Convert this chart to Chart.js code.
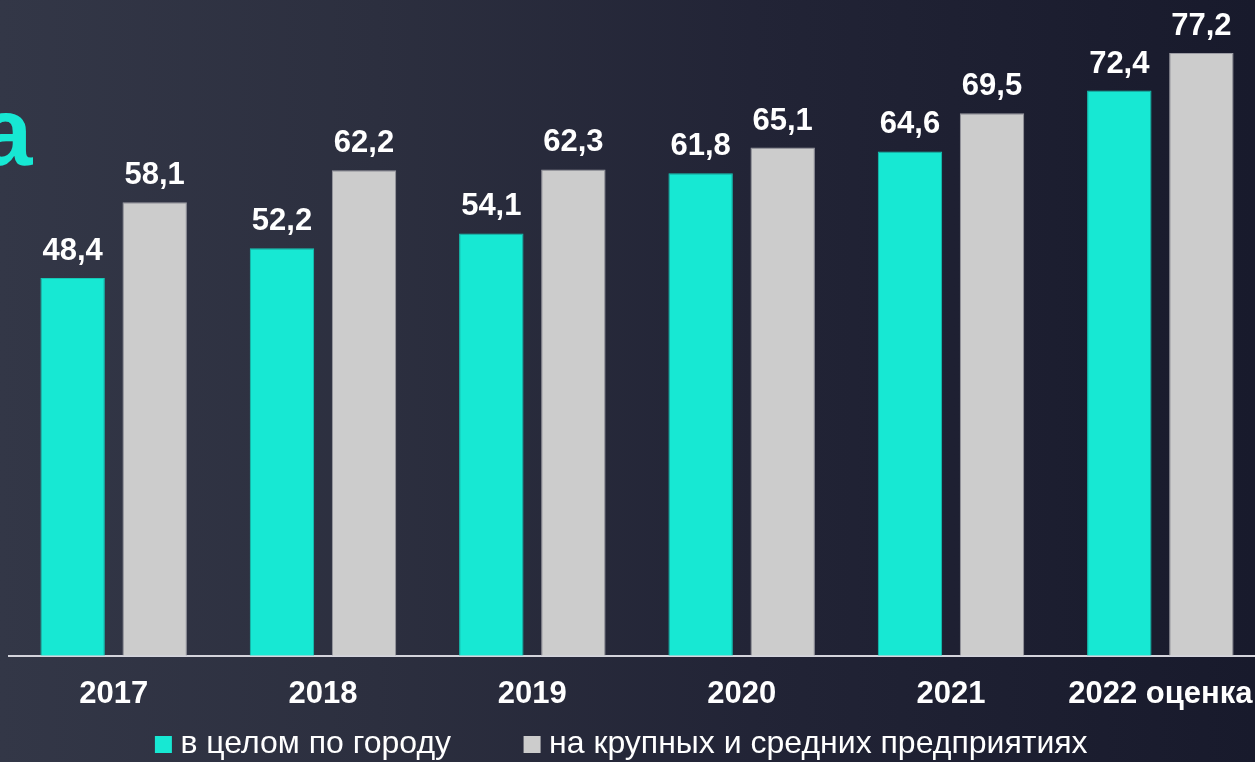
<!DOCTYPE html>
<html><head><meta charset="utf-8">
<script src="https://cdn.jsdelivr.net/npm/chart.js@4"></script>
<style>
html,body{margin:0;padding:0;width:1255px;height:762px;overflow:hidden;
background:linear-gradient(90deg,#333747 0%,#2c2f3f 30%,#222436 60%,#181a2c 100%);}
#wrap{position:absolute;left:-15px;top:0;width:1280px;height:775px;}
#title{position:absolute;left:-21px;top:84px;font-family:Arial,"Liberation Sans",Helvetica,sans-serif;font-weight:bold;font-size:96px;color:#17e8d3;line-height:1;white-space:nowrap;}
</style></head><body>
<div id="title">а</div>
<div id="wrap"><canvas id="c" width="1280" height="775"></canvas></div>
<script>
const categories = ['2017', '2018', '2019', '2020', '2021', '2022 оценка'];
const cityValues = [48.4, 52.2, 54.1, 61.8, 64.6, 72.4];
const largeValues = [58.1, 62.2, 62.3, 65.1, 69.5, 77.2];
const seriesNames = ['в целом по городу', 'на крупных и средних предприятиях'];

const FONT = 'Arial, "Liberation Sans", sans-serif';

const valueLabels = {
  id: 'valueLabels',
  afterDatasetsDraw(chart) {
    const ctx = chart.ctx;
    ctx.save();
    ctx.font = 'bold 31px ' + FONT;
    ctx.fillStyle = '#ffffff';
    ctx.textAlign = 'center';
    ctx.textBaseline = 'alphabetic';
    chart.data.datasets.forEach((ds, di) => {
      chart.getDatasetMeta(di).data.forEach((bar, i) => {
        const t = ds.data[i].toFixed(1).replace('.', ',');
        ctx.fillText(t, bar.x, bar.y - 18);
      });
    });
    ctx.restore();
  }
};

const legendNudge = {
  id: 'legendNudge',
  afterLayout(chart) {
    if (chart.legend) { chart.legend.top -= 4.5; chart.legend.bottom -= 4.5; }
  }
};

new Chart(document.getElementById('c'), {
  type: 'bar',
  data: {
    labels: categories,
    datasets: [
      { label: seriesNames[0], data: cityValues, backgroundColor: '#17e8d3', borderColor: '#14c8b6', borderWidth: 1 },
      { label: seriesNames[1], data: largeValues, backgroundColor: '#cccccc', borderColor: '#9c9ca4', borderWidth: 1 }
    ]
  },
  options: {
    responsive: false,
    animation: false,
    layout: { padding: 0, autoPadding: false },
    datasets: { bar: { categoryPercentage: 0.784, barPercentage: 0.785 } },
    scales: {
      x: {
        grid: { display: false, drawTicks: false },
        border: { display: true, color: '#d4d4dc', width: 2 },
        ticks: { color: '#ffffff', padding: 20, font: { family: FONT, size: 31, weight: 'bold' }, maxRotation: 0, autoSkip: false },
        afterFit(s) { s.paddingLeft = 0; s.paddingRight = 0; }
      },
      y: {
        min: 0, max: 84,
        grid: { display: false },
        border: { display: false },
        ticks: { display: false },
        afterFit(s) { s.width = 24; }
      }
    },
    plugins: {
      tooltip: { enabled: false },
      legend: {
        position: 'bottom',
        labels: {
          color: '#ffffff',
          font: { family: FONT, size: 32 },
          padding: 0,
          usePointStyle: true,
          pointStyle: 'rect',
          boxWidth: 2,
          boxHeight: 17,
          generateLabels(chart) {
            const items = Chart.defaults.plugins.legend.labels.generateLabels(chart);
            items.forEach((it, i) => {
              it.lineWidth = 0;
              if (i < items.length - 1) it.text = it.text + '\u00A0'.repeat(9);
            });
            return items;
          }
        }
      }
    }
  },
  plugins: [valueLabels, legendNudge]
});
</script>
</body></html>
